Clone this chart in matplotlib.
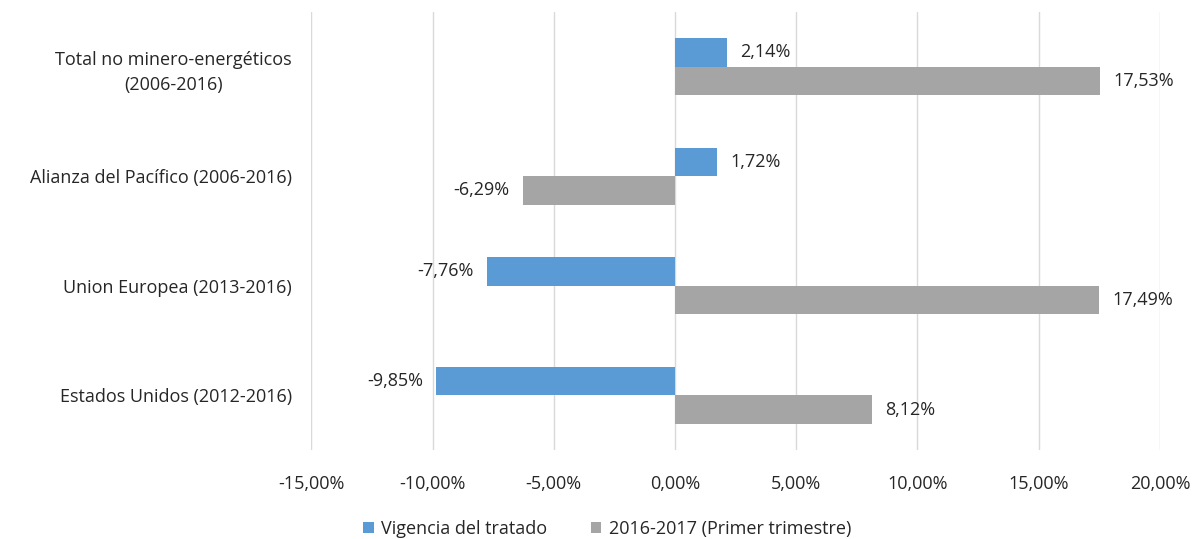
import numpy as np
import matplotlib.pyplot as plt
from matplotlib.ticker import FuncFormatter

categorias = ['Total no minero-energéticos\n(2006-2016)', 'Alianza del Pacífico (2006-2016)',
              'Union Europea (2013-2016)', 'Estados Unidos (2012-2016)']
vigencia = [2.14, 1.72, -7.76, -9.85]
primer_trim = [17.53, -6.29, 17.49, 8.12]
serie_nombres = ['Vigencia del tratado', '2016-2017 (Primer trimestre)']
colores = ['#5B9BD5', '#A5A5A5']

plt.rcParams['font.family'] = ['Open Sans', 'DejaVu Sans']
plt.rcParams['font.size'] = 13

fig = plt.figure(figsize=(12.02, 5.39), dpi=100)
ax = fig.add_axes([0.259, 0.165, 0.706, 0.813])

y = np.arange(len(categorias))[::-1]
h = 0.26
b1 = ax.barh(y + h / 2, vigencia, height=h, color=colores[0], label=serie_nombres[0], zorder=3)
b2 = ax.barh(y - h / 2, primer_trim, height=h, color=colores[1], label=serie_nombres[1], zorder=3)

def fmt(v):
    return f'{v:.2f}'.replace('.', ',') + '%'

for bars, vals in [(b1, vigencia), (b2, primer_trim)]:
    for bar, v in zip(bars, vals):
        yc = bar.get_y() + bar.get_height() / 2
        if v >= 0:
            ax.text(v + 0.55, yc, fmt(v), va='center', ha='left', color='#262626')
        else:
            ax.text(v - 0.55, yc, fmt(v), va='center', ha='right', color='#262626')

ax.set_xlim(-15, 20)
ax.set_ylim(-0.5, 3.5)
ax.set_xticks(np.arange(-15, 21, 5))
ax.xaxis.set_major_formatter(FuncFormatter(lambda v, p: f'{v:.2f}'.replace('.', ',') + '%'))
ax.set_yticks(y)
ax.set_yticklabels(categorias, ha='right', multialignment='center', linespacing=1.5)
ax.tick_params(axis='y', length=0, pad=14)
ax.tick_params(axis='x', length=0, pad=18, colors='#262626')
for lbl in ax.get_yticklabels():
    lbl.set_color('#262626')
ax.grid(axis='x', color='#D9D9D9', linewidth=1, zorder=0)
for s in ax.spines.values():
    s.set_visible(False)

fig.legend(handles=[b1, b2], loc='lower center', bbox_to_anchor=(0.505, -0.028), ncol=2,
           frameon=False, handlelength=0.6, handleheight=0.6, columnspacing=2.4,
           handletextpad=0.4, labelcolor='#262626')

fig.savefig('out.png', dpi=100)
